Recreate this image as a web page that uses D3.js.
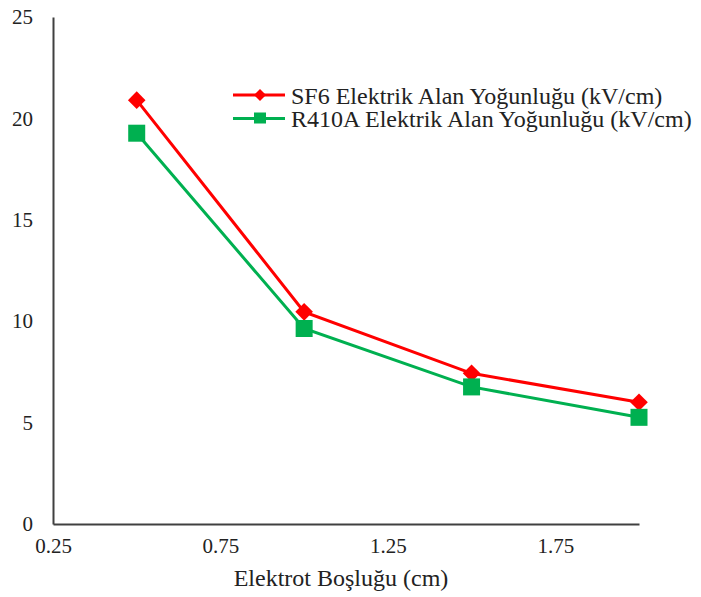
<!DOCTYPE html>
<html>
<head>
<meta charset="utf-8">
<script src="https://cdn.jsdelivr.net/npm/d3@7"></script>
<style>
  html, body { margin: 0; padding: 0; background: #fff; }
  svg { display: block; }
  svg text { font-family: "Liberation Serif", "DejaVu Serif", serif !important; fill: #222; }
</style>
</head>
<body>
<svg id="chart" width="701" height="597"></svg>
<script>
const gaps = [0.5, 1.0, 1.5, 2.0];
const sf6Values = [20.9, 10.46, 7.43, 6.0];
const r410aValues = [19.27, 9.64, 6.76, 5.26];
const xTicks = [0.25, 0.75, 1.25, 1.75];
const yTicks = [0, 5, 10, 15, 20, 25];
const seriesNames = ["SF6 Elektrik Alan Yoğunluğu (kV/cm)", "R410A Elektrik Alan Yoğunluğu (kV/cm)"];
const seriesColors = ["#ff0000", "#00b050"];
const xTitle = "Elektrot Boşluğu (cm)";

const FONT = '"Liberation Serif", "DejaVu Serif", serif';
const svg = d3.select("#chart");
const x = d3.scaleLinear().domain([0.25, 2.0]).range([53, 639]);
const y = d3.scaleLinear().domain([0, 25]).range([524, 17]);

// axes
const xAxis = d3.axisBottom(x).tickValues(xTicks).tickSize(0).tickPadding(14).tickFormat(d3.format(".2f"));
const gx = svg.append("g").attr("transform", `translate(0,${y(0)})`).call(xAxis)
  .attr("font-family", FONT);
gx.select(".domain").attr("stroke", "#404040").attr("stroke-width", 2);
gx.selectAll("text").attr("font-size", 21).attr("fill", "#222");

const yAxis = d3.axisLeft(y).tickValues(yTicks).tickSize(0).tickPadding(20).tickFormat(d3.format("d"));
const gy = svg.append("g").attr("transform", `translate(${x(0.25)},0)`).call(yAxis)
  .attr("font-family", FONT);
gy.select(".domain").attr("stroke", "#404040").attr("stroke-width", 2);
gy.selectAll("text").attr("font-size", 21).attr("fill", "#222");

svg.append("text")
  .attr("x", 341).attr("y", 586)
  .attr("text-anchor", "middle")
  .attr("font-family", FONT)
  .attr("font-size", 24)
  .text(xTitle);

const line = d3.line().x(d => x(d[0])).y(d => y(d[1]));
const series = [sf6Values, r410aValues];

series.forEach((vals, i) => {
  const pts = gaps.map((g, j) => [g, vals[j]]);
  svg.append("path").datum(pts)
    .attr("d", line)
    .attr("fill", "none")
    .attr("stroke", seriesColors[i])
    .attr("stroke-width", 3);
  if (i === 0) {
    svg.selectAll(null).data(pts).enter().append("path")
      .attr("transform", d => `translate(${x(d[0])},${y(d[1])})`)
      .attr("d", () => {
        const s = 8.8;
        return `M0,${-s}L${s},0L0,${s}L${-s},0Z`;
      })
      .attr("fill", seriesColors[i]);
  } else {
    svg.selectAll(null).data(pts).enter().append("rect")
      .attr("x", d => x(d[0]) - 8.5)
      .attr("y", d => y(d[1]) - 8.5)
      .attr("width", 17).attr("height", 17)
      .attr("fill", seriesColors[i]);
  }
});

// legend
const legendY = [95, 118.5];
seriesNames.forEach((name, i) => {
  const g = svg.append("g").attr("transform", `translate(0,${legendY[i]})`);
  g.append("line").attr("x1", 233).attr("x2", 285).attr("y1", 0).attr("y2", 0)
    .attr("stroke", seriesColors[i]).attr("stroke-width", 3);
  if (i === 0) {
    g.append("path").attr("d", "M260,-6L266,0L260,6L254,0Z").attr("fill", seriesColors[i]);
  } else {
    g.append("rect").attr("x", 254).attr("y", -6).attr("width", 12).attr("height", 11).attr("fill", seriesColors[i]);
  }
  g.append("text").attr("x", 291).attr("y", 8.5).attr("font-family", FONT).attr("font-size", 24).text(name);
});
</script>
</body>
</html>
